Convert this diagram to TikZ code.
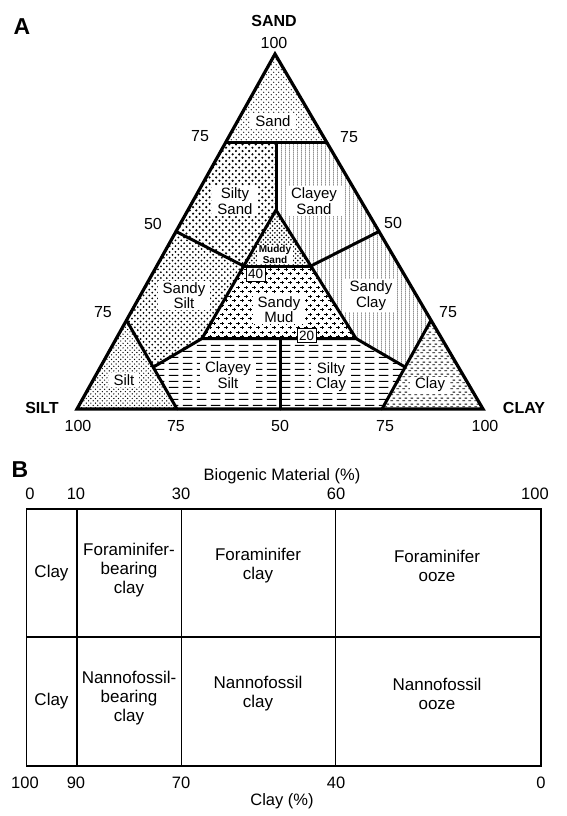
\documentclass[tikz,border=0pt]{standalone}
\usepackage{fontspec}
\setmainfont{Liberation Sans}
\usetikzlibrary{patterns}

\pgfdeclarepatternformonly{sandpat}{\pgfqpoint{-1pt}{-1pt}}{\pgfqpoint{6pt}{6pt}}{\pgfqpoint{5pt}{5pt}}{%
  \pgfpathcircle{\pgfqpoint{1.25pt}{1.25pt}}{0.7pt}%
  \pgfpathcircle{\pgfqpoint{3.75pt}{3.75pt}}{0.7pt}%
  \pgfusepath{fill}}
\pgfdeclarepatternformonly{siltpat}{\pgfqpoint{-1pt}{-1pt}}{\pgfqpoint{6pt}{6pt}}{\pgfqpoint{4.6pt}{4.6pt}}{%
  \pgfpathcircle{\pgfqpoint{1.15pt}{1.15pt}}{0.7pt}%
  \pgfpathcircle{\pgfqpoint{3.45pt}{3.45pt}}{0.7pt}%
  \pgfusepath{fill}}
\pgfdeclarepatternformonly{bigdots}{\pgfqpoint{-1pt}{-1pt}}{\pgfqpoint{8pt}{8pt}}{\pgfqpoint{6.6pt}{6.6pt}}{%
  \pgfpathcircle{\pgfqpoint{1.65pt}{1.65pt}}{1.2pt}%
  \pgfpathcircle{\pgfqpoint{4.95pt}{4.95pt}}{1.2pt}%
  \pgfusepath{fill}}
\pgfdeclarepatternformonly{meddots}{\pgfqpoint{-1pt}{-1pt}}{\pgfqpoint{7pt}{7pt}}{\pgfqpoint{5.8pt}{5.8pt}}{%
  \pgfpathcircle{\pgfqpoint{1.45pt}{1.45pt}}{1.0pt}%
  \pgfpathcircle{\pgfqpoint{4.35pt}{4.35pt}}{1.0pt}%
  \pgfusepath{fill}}
\pgfdeclarepatternformonly{muddots}{\pgfqpoint{-1pt}{-1pt}}{\pgfqpoint{6pt}{6pt}}{\pgfqpoint{4.6pt}{4.6pt}}{%
  \pgfpathcircle{\pgfqpoint{1.15pt}{1.15pt}}{0.9pt}%
  \pgfpathcircle{\pgfqpoint{3.45pt}{3.45pt}}{0.9pt}%
  \pgfusepath{fill}}
\pgfdeclarepatternformonly{vdots}{\pgfqpoint{0pt}{0pt}}{\pgfqpoint{4pt}{2.4pt}}{\pgfqpoint{4pt}{2.4pt}}{%
  \pgfpathrectangle{\pgfqpoint{1.6pt}{0.6pt}}{\pgfqpoint{0.8pt}{1.1pt}}%
  \pgfusepath{fill}}
\pgfdeclarepatternformonly{pluspat}{\pgfqpoint{-1pt}{-1pt}}{\pgfqpoint{9pt}{10pt}}{\pgfqpoint{8pt}{9pt}}{%
  \pgfsetlinewidth{0.9pt}%
  \pgfpathmoveto{\pgfqpoint{0.4pt}{2.25pt}}\pgfpathlineto{\pgfqpoint{3.6pt}{2.25pt}}%
  \pgfpathmoveto{\pgfqpoint{2pt}{0.65pt}}\pgfpathlineto{\pgfqpoint{2pt}{3.85pt}}%
  \pgfpathmoveto{\pgfqpoint{4.4pt}{6.75pt}}\pgfpathlineto{\pgfqpoint{7.6pt}{6.75pt}}%
  \pgfpathmoveto{\pgfqpoint{6pt}{5.15pt}}\pgfpathlineto{\pgfqpoint{6pt}{8.35pt}}%
  \pgfusepath{stroke}}
\pgfdeclarepatternformonly{hdash}{\pgfqpoint{0pt}{0pt}}{\pgfqpoint{14pt}{6pt}}{\pgfqpoint{14pt}{6pt}}{%
  \pgfsetlinewidth{1.2pt}%
  \pgfpathmoveto{\pgfqpoint{1pt}{3pt}}\pgfpathlineto{\pgfqpoint{11pt}{3pt}}%
  \pgfusepath{stroke}}
\pgfdeclarepatternformonly{claydash}{\pgfqpoint{0pt}{0pt}}{\pgfqpoint{6pt}{6pt}}{\pgfqpoint{6pt}{6pt}}{%
  \pgfsetlinewidth{1pt}%
  \pgfpathmoveto{\pgfqpoint{0.5pt}{1.5pt}}\pgfpathlineto{\pgfqpoint{3.5pt}{1.5pt}}%
  \pgfpathmoveto{\pgfqpoint{3pt}{4.5pt}}\pgfpathlineto{\pgfqpoint{6pt}{4.5pt}}%
  \pgfusepath{stroke}}

\tikzset{
  bnd/.style={line width=3pt, line join=round, line cap=round},
  lab/.style={fill=white, inner xsep=5pt, inner ysep=1.5pt, align=center,
    font=\fontsize{15}{15.5}\selectfont},
  msl/.style={fill=white, inner xsep=2pt, inner ysep=0.5pt, align=center,
    font=\fontsize{10}{10.7}\selectfont\bfseries},
  num/.style={font=\fontsize{16}{16}\selectfont, inner sep=0pt},
  corner/.style={font=\fontsize{16}{16}\selectfont\bfseries, inner sep=0pt},
  panel/.style={font=\fontsize{23}{23}\selectfont\bfseries, inner sep=0pt},
  valbox/.style={draw, fill=white, line width=0.9pt, inner sep=1pt,
    minimum width=19pt, minimum height=14pt, font=\fontsize{13.5}{13.5}\selectfont},
  cell/.style={align=center, inner sep=0pt, font=\fontsize{17}{19}\selectfont},
  bnum/.style={font=\fontsize{16.5}{16.5}\selectfont, inner sep=0pt},
  grid/.style={line width=1.6pt}
}

\begin{document}
\begin{tikzpicture}[x=1pt, y=-1pt]
\useasboundingbox (0,0) rectangle (567,816);

% ---------- key points of the ternary diagram ----------
\coordinate (L) at (77,409);
\coordinate (R) at (483,409);
\coordinate (T) at (275,54);
\coordinate (SL75) at (225.5,142.75);
\coordinate (SR75) at (327,142.75);
\coordinate (V75) at (276,142.75);
\coordinate (P) at (276,210);
\coordinate (SL50) at (176,231.5);
\coordinate (SR50) at (379,231.5);
\coordinate (L40) at (243.7,266);
\coordinate (R40) at (310.9,266);
\coordinate (L20) at (202,338.5);
\coordinate (R20) at (356,338.5);
\coordinate (M20) at (280,338.5);
\coordinate (MB) at (280,409);
\coordinate (SL25) at (126.5,320.25);
\coordinate (SR25) at (431,320.25);
\coordinate (Q1) at (153.5,367);
\coordinate (Q2) at (405,367);
\coordinate (B25) at (177,409);
\coordinate (B75) at (382,409);

% ---------- region fills ----------
\fill[pattern=sandpat] (T) -- (SL75) -- (SR75) -- cycle;
\fill[pattern=bigdots] (SL75) -- (V75) -- (P) -- (L40) -- (SL50) -- cycle;
\fill[pattern=vdots] (V75) -- (SR75) -- (SR50) -- (R40) -- (P) -- cycle;
\fill[pattern=muddots] (P) -- (L40) -- (R40) -- cycle;
\fill[pattern=pluspat] (L40) -- (R40) -- (R20) -- (L20) -- cycle;
\fill[pattern=meddots] (SL50) -- (L40) -- (L20) -- (Q1) -- (SL25) -- cycle;
\fill[pattern=vdots] (SR50) -- (SR25) -- (Q2) -- (R20) -- (R40) -- cycle;
\fill[pattern=hdash] (Q1) -- (L20) -- (M20) -- (MB) -- (B25) -- cycle;
\fill[pattern=hdash] (M20) -- (R20) -- (Q2) -- (B75) -- (MB) -- cycle;
\fill[pattern=siltpat] (L) -- (SL25) -- (Q1) -- (B25) -- cycle;
\fill[pattern=claydash] (R) -- (SR25) -- (Q2) -- (B75) -- cycle;

% ---------- boundaries ----------
\draw[bnd] (SL75) -- (SR75);
\draw[bnd] (V75) -- (P);
\draw[bnd] (P) -- (L20);
\draw[bnd] (P) -- (R20);
\draw[bnd] (L40) -- (R40);
\draw[bnd] (SL50) -- (L40);
\draw[bnd] (SR50) -- (R40);
\draw[bnd] (Q1) -- (L20) -- (R20) -- (Q2);
\draw[bnd] (M20) -- (MB);
\draw[bnd] (SL25) -- (B25);
\draw[bnd] (SR25) -- (B75);
\draw[line width=3.2pt, line join=miter] (L) -- (T) -- (R) -- cycle;

% ---------- region labels ----------
\node[lab] (lsand) at (273,121) {Sand};
\node[lab] (lsiltysand) at (235,201) {Silty\\Sand};
\node[lab] (lclayeysand) at (314,201) {Clayey\\Sand};
\node[msl] (lmuddysand) at (275,254.5) {Muddy\\Sand};
\node[lab] (lsandymud) at (279,309.5) {Sandy\\Mud};
\node[lab] (lsandysilt) at (184,295.5) {Sandy\\Silt};
\node[lab] (lsandyclay) at (371,295.5) {Sandy\\Clay};
\node[lab] (lsilt) at (124,380) {Silt};
\node[lab] (lclayeysilt) at (228,375) {Clayey\\Silt};
\node[lab] (lsiltyclay) at (331,377) {Silty\\Clay};
\node[lab] (lclay) at (430,385) {Clay};
\node[valbox] (v40) at (255.7,274) {40};
\node[valbox] (v20) at (306.7,335.5) {20};

% ---------- axis labels ----------
\node[panel] (pa) at (22,27) {A};
\node[corner] (csand) at (274,21) {SAND};
\node[num] (n100t) at (274,42.5) {100};
\node[num] (n75l) at (200,136) {75};
\node[num] (n75r) at (349,137) {75};
\node[num] (n50l) at (153,224) {50};
\node[num] (n50r) at (393,223) {50};
\node[num] (n75ll) at (103,312) {75};
\node[num] (n75rr) at (448,312) {75};
\node[corner] (csilt) at (42,408) {SILT};
\node[corner] (cclay) at (524,408) {CLAY};
\node[num] (nb1) at (78,426) {100};
\node[num] (nb2) at (176,426) {75};
\node[num] (nb3) at (280,426) {50};
\node[num] (nb4) at (385,426) {75};
\node[num] (nb5) at (485,426) {100};

% ---------- panel B ----------
\node[panel] (pb) at (20,470) {B};
\node[bnum] (bio) at (282,476) {Biogenic Material (\%)};
\node[bnum] (t0) at (30,493.5) {0};
\node[bnum] (t10) at (76,493.5) {10};
\node[bnum] (t30) at (181,493.5) {30};
\node[bnum] (t60) at (336,493.5) {60};
\node[bnum] (t100) at (535,493.5) {100};

\coordinate (bTL) at (26.5,509);
\coordinate (bBR) at (541,766);
\draw[grid] (bTL) rectangle (bBR);
\draw[grid] (26.5,637) coordinate (mL) -- (541,637) coordinate (mR);
\draw[grid] (77,509) coordinate (c1t) -- (77,766) coordinate (c1b);
\draw[grid] (181.5,509) coordinate (c2t) -- (181.5,766) coordinate (c2b);
\draw[grid] (335.5,509) coordinate (c3t) -- (335.5,766) coordinate (c3b);

\node[cell] (r1a) at (51.5,573) {Clay};
\node[cell] (r1b) at (129,570) {Foraminifer-\\bearing\\clay};
\node[cell] (r1c) at (258,566) {Foraminifer\\clay};
\node[cell] (r1d) at (437,566) {Foraminifer\\ooze};
\node[cell] (r2a) at (51.5,701) {Clay};
\node[cell] (r2b) at (129,698) {Nannofossil-\\bearing\\clay};
\node[cell] (r2c) at (258,694) {Nannofossil\\clay};
\node[cell] (r2d) at (437,694) {Nannofossil\\ooze};

\node[bnum] (u100) at (25,783) {100};
\node[bnum] (u90) at (76,783) {90};
\node[bnum] (u70) at (181,783) {70};
\node[bnum] (u40) at (336,783) {40};
\node[bnum] (u0) at (541,783) {0};
\node[bnum] (clayp) at (282,801) {Clay (\%)};
\end{tikzpicture}
\end{document}
